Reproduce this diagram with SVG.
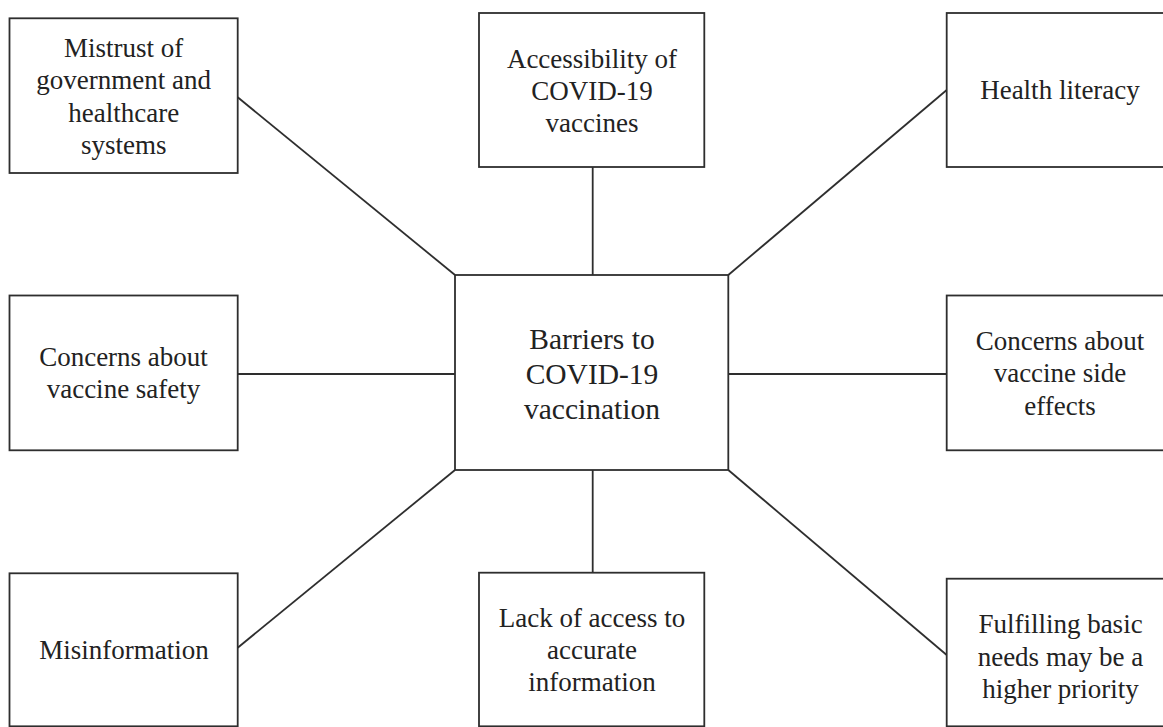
<svg xmlns="http://www.w3.org/2000/svg" width="1163" height="727" viewBox="0 0 1163 727">
<style>
.box{fill:#fff;stroke:#2e2e2e;stroke-width:1.8}
.lbl{font-family:"Liberation Serif","Times New Roman",serif;font-size:27px;fill:#222;text-anchor:middle}
.big{font-size:29.5px}
.conn line{stroke:#2e2e2e;stroke-width:1.8}
</style>
<rect width="1163" height="727" fill="#fff"/>
<g class="conn" id="connectors">
<line x1="237.7" y1="97.3" x2="455" y2="275"/>
<line x1="592.7" y1="167" x2="592.7" y2="275"/>
<line x1="728.3" y1="275" x2="946.7" y2="90"/>
<line x1="237.7" y1="374" x2="455" y2="374"/>
<line x1="728.3" y1="374" x2="946.7" y2="374"/>
<line x1="455" y1="470" x2="237.7" y2="647.7"/>
<line x1="592.7" y1="470" x2="592.7" y2="572.7"/>
<line x1="728.3" y1="470" x2="946.7" y2="655"/>
</g>
<g id="center">
<rect class="box" x="455" y="275" width="273.3" height="195"/>
<text class="lbl big" x="592" y="348.5">Barriers to</text>
<text class="lbl big" x="592" y="384">COVID-19</text>
<text class="lbl big" x="592" y="419">vaccination</text>
</g>
<g id="mistrust">
<rect class="box" x="9.5" y="18.3" width="228.2" height="154.7"/>
<text class="lbl" x="123.7" y="56.7">Mistrust of</text>
<text class="lbl" x="123.7" y="89.3">government and</text>
<text class="lbl" x="123.7" y="122">healthcare</text>
<text class="lbl" x="123.7" y="154.3">systems</text>
</g>
<g id="accessibility">
<rect class="box" x="479" y="13" width="225.3" height="154"/>
<text class="lbl" x="592" y="67.5">Accessibility of</text>
<text class="lbl" x="592" y="100">COVID-19</text>
<text class="lbl" x="592" y="132">vaccines</text>
</g>
<g id="health-literacy">
<rect class="box" x="946.7" y="13" width="230" height="154"/>
<text class="lbl" x="1060" y="99.3">Health literacy</text>
</g>
<g id="safety">
<rect class="box" x="9.5" y="295.5" width="228.2" height="154.8"/>
<text class="lbl" x="123.5" y="366">Concerns about</text>
<text class="lbl" x="123.5" y="398.3">vaccine safety</text>
</g>
<g id="side-effects">
<rect class="box" x="946.7" y="295.5" width="230" height="154.8"/>
<text class="lbl" x="1060" y="350">Concerns about</text>
<text class="lbl" x="1060" y="382">vaccine side</text>
<text class="lbl" x="1060" y="414.5">effects</text>
</g>
<g id="misinformation">
<rect class="box" x="9.5" y="573.3" width="228.2" height="153"/>
<text class="lbl" x="124" y="659.3">Misinformation</text>
</g>
<g id="lack-of-access">
<rect class="box" x="479" y="572.7" width="225.3" height="153.6"/>
<text class="lbl" x="592" y="626.7">Lack of access to</text>
<text class="lbl" x="592" y="659">accurate</text>
<text class="lbl" x="592" y="691">information</text>
</g>
<g id="basic-needs">
<rect class="box" x="946.7" y="578.7" width="230" height="147.6"/>
<text class="lbl" x="1060.5" y="633.3">Fulfilling basic</text>
<text class="lbl" x="1060.5" y="666">needs may be a</text>
<text class="lbl" x="1060.5" y="697.7">higher priority</text>
</g>
</svg>
